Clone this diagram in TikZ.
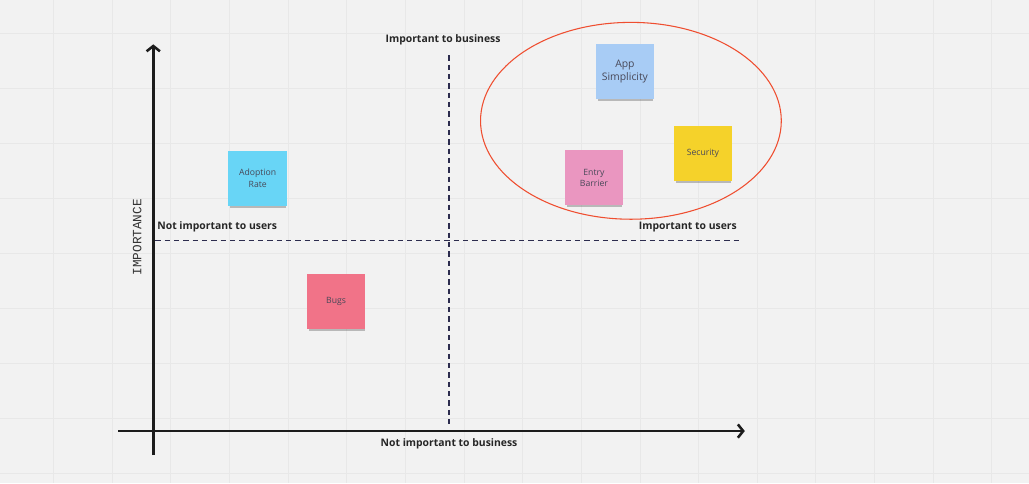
\documentclass[tikz,border=0pt]{standalone}
\usepackage{fontspec}
\setmainfont{Open Sans}
\setmonofont{Liberation Mono}
\usetikzlibrary{arrows.meta,positioning,calc,shadows}
\definecolor{boardbg}{RGB}{242,242,242}
\definecolor{gridgray}{RGB}{232,232,232}
\definecolor{axisblack}{RGB}{28,28,28}
\definecolor{dashnavy}{RGB}{44,44,78}
\definecolor{ringred}{RGB}{239,78,48}
\definecolor{noteblue}{RGB}{168,204,245}
\definecolor{noteyellow}{RGB}{245,210,42}
\definecolor{notepink}{RGB}{234,150,192}
\definecolor{notecyan}{RGB}{104,213,246}
\definecolor{notered}{RGB}{241,115,136}
\definecolor{notetext}{RGB}{72,72,88}

\begin{document}
\begin{tikzpicture}[
    x=0.75pt, y=-0.75pt,
    note/.style={
      minimum width=44pt, minimum height=41.5pt, inner sep=1pt,
      align=center, font=\fontsize{6.5}{8.5}\selectfont, text=notetext,
      drop shadow={shadow xshift=0.5pt, shadow yshift=-2.4pt,
                   shadow scale=0.95, opacity=0.35, fill=black!70}
    },
    bluenote/.style={note, fill=noteblue},
    yellownote/.style={note, fill=noteyellow},
    pinknote/.style={note, fill=notepink},
    cyannote/.style={note, fill=notecyan},
    rednote/.style={note, fill=notered},
    quadlabel/.style={font=\fontsize{7.8}{9}\selectfont\bfseries,
                      text=black!85},
    gridline/.style={gridgray, line width=0.6pt},
    axis/.style={-{Straight Barb[length=4pt,width=10pt]},
                 line width=1.9pt, color=axisblack},
    divider/.style={dashnavy, line width=1pt,
                    dash pattern=on 4pt off 3pt},
  ]

  % Board background and grid
  \fill[boardbg] (0,0) rectangle (1029,483);
  \foreach \i in {0,...,16}
    \draw[gridline] ({53+58.7*\i},0) -- ({53+58.7*\i},483);
  \foreach \j in {0,...,8}
    \draw[gridline] (0,{33.3+55*\j}) -- (1029,{33.3+55*\j});

  % --- Axes ---
  \coordinate (ybot) at (153,455);
  \coordinate (ytop) at (153,44);
  \coordinate (xleft) at (118,431);
  \coordinate (xright) at (745,431);
  \draw[axis] (ybot) -- (ytop);
  \draw[axis] (xleft) -- (xright);
  \node[font=\ttfamily\fontsize{9.5}{10}\selectfont, text=black!80,
        rotate=90] (ylab) at (137,237) {IMPORTANCE};

  % --- Quadrant dividers ---
  \coordinate (vtop) at (449,55);
  \coordinate (vbot) at (449,425);
  \coordinate (hleft) at (155,240);
  \coordinate (hright) at (741,240);
  \draw[divider] (vtop) -- (vbot);
  \draw[divider] (hleft) -- (hright);

  \node[quadlabel] (busyes) at (443,39) {Important to business};
  \node[quadlabel] (busno) at (449,444) {Not important to business};
  \node[quadlabel] (usrno) at (217,227) {Not important to users};
  \node[quadlabel] (usryes) at (688,227) {Important to users};

  % --- Sticky notes ---
  \node[bluenote, font=\fontsize{7.8}{9.5}\selectfont] (simpl) at (625,71)
    {App\\Simplicity};
  \node[yellownote] (secur) at (703,153.5) {Security};
  \node[pinknote] (entry) at (594,177.5) {Entry\\Barrier};
  \node[cyannote] (adopt) at (257.5,178) {Adoption\\Rate};
  \node[rednote] (bugs) at (336,301.5) {Bugs};

  % Priority ring
  \draw[ringred, line width=0.8pt] (631,120.5) ellipse (150.5 and 98.5);

\end{tikzpicture}
\end{document}
